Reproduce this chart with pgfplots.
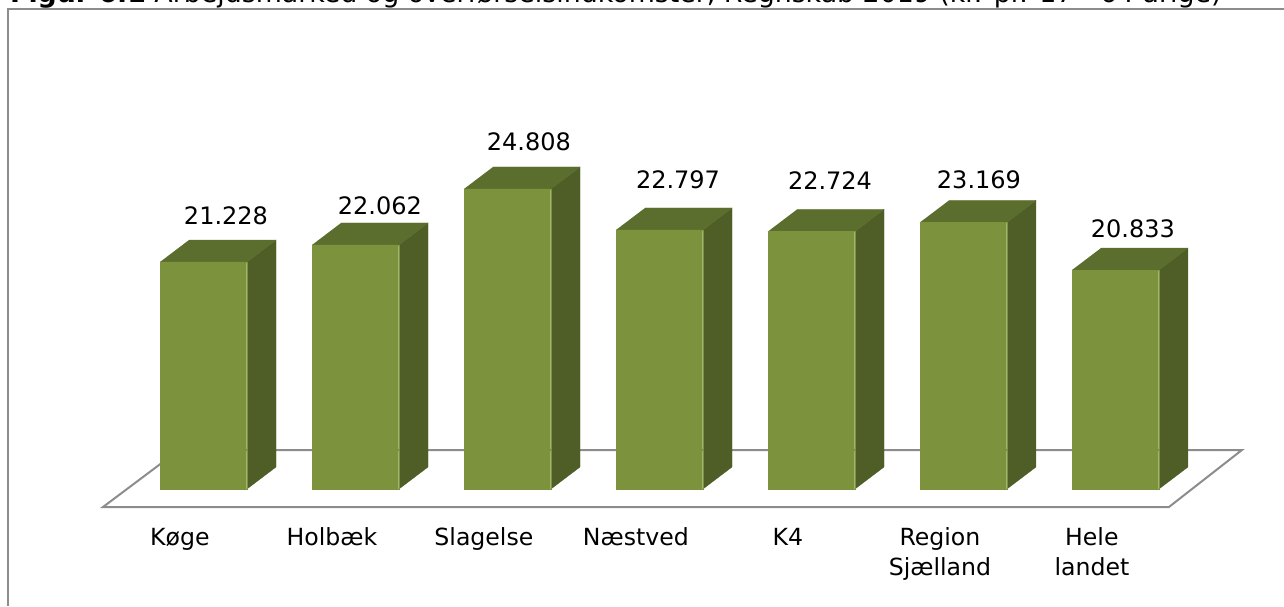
\documentclass[border=0pt]{standalone}
\usepackage{fontspec}
\setmainfont{DejaVu Sans}
\usepackage{pgfplots}
\usepackage{pgfplotstable}
\pgfplotsset{compat=1.18}

\definecolor{barfront}{RGB}{124,146,60}
\definecolor{bartop}{RGB}{92,110,45}
\definecolor{barside}{RGB}{78,94,38}
\definecolor{floorgray}{RGB}{140,140,140}

% 1000 kr. per 17-64 year old
\pgfplotstableread{
x v
0 21.228
1 22.062
2 24.808
3 22.797
4 22.724
5 23.169
6 20.833
}\kommuner

% where the value labels sit
\pgfplotstableread{
x y lab
0.148 23.090 21.228
1.161 23.580 22.062
2.141 26.669 24.808
3.122 24.855 22.797
4.122 24.806 22.724
5.102 24.855 23.169
6.115 22.453 20.833
}\labels

\begin{document}
\begin{tikzpicture}
\useasboundingbox (0,0) rectangle (1284pt,606pt);
\begin{axis}[
    at={(0,0)}, anchor=south west,
    scale only axis,
    width=1284pt, height=606pt,
    xmin=-1.3388, xmax=7.1086,
    ymin=4.365, ymax=34.071,
    y coord trafo/.code={\pgfmathparse{#1-10.1}},
    clip=false,
    axis line style={draw=none},
    major tick length=0pt,
    ytick=\empty,
    xtick={-0.155,0.845,1.845,2.845,3.845,4.845,5.845},
    xticklabels={K{\o}ge,Holb{\ae}k,Slagelse,N{\ae}stved,K4,Region\\Sj{\ae}lland,Hele\\landet},
    typeset ticklabels with strut,
    xticklabel style={align=center, anchor=north, yshift=84.5pt,
        font=\fontsize{23.6}{29.5}\selectfont},
]
% outer frame
\addplot[floorgray, line width=2pt] coordinates {(-1.283,4.365) (-1.283,33.629) (7.1086,33.629)};
% floor
\addplot[floorgray, line width=2pt, line join=miter] coordinates {(-0.661,9.218) (6.352,9.218) (6.832,12.012) (-0.161,12.012) (-0.661,9.218) (6.352,9.218)};

% side faces
\addplot[fill=barside, draw=barside, line width=0.3pt] coordinates {(0.2862,10.1) (0.4772,11.178) (0.4772,22.306) (0.2862,21.228)};
\addplot[fill=barside, draw=barside, line width=0.3pt] coordinates {(1.2862,10.1) (1.4772,11.178) (1.4772,23.140) (1.2862,22.062)};
\addplot[fill=barside, draw=barside, line width=0.3pt] coordinates {(2.2862,10.1) (2.4772,11.178) (2.4772,25.886) (2.2862,24.808)};
\addplot[fill=barside, draw=barside, line width=0.3pt] coordinates {(3.2862,10.1) (3.4772,11.178) (3.4772,23.875) (3.2862,22.797)};
\addplot[fill=barside, draw=barside, line width=0.3pt] coordinates {(4.2862,10.1) (4.4772,11.178) (4.4772,23.802) (4.2862,22.724)};
\addplot[fill=barside, draw=barside, line width=0.3pt] coordinates {(5.2862,10.1) (5.4772,11.178) (5.4772,24.247) (5.2862,23.169)};
\addplot[fill=barside, draw=barside, line width=0.3pt] coordinates {(6.2862,10.1) (6.4772,11.178) (6.4772,21.911) (6.2862,20.833)};
% top faces
\addplot[fill=bartop, draw=bartop, line width=0.3pt] coordinates {(-0.2862,21.228) (0.2862,21.228) (0.4772,22.306) (-0.0952,22.306)};
\addplot[fill=bartop, draw=bartop, line width=0.3pt] coordinates {(0.7138,22.062) (1.2862,22.062) (1.4772,23.140) (0.9048,23.140)};
\addplot[fill=bartop, draw=bartop, line width=0.3pt] coordinates {(1.7138,24.808) (2.2862,24.808) (2.4772,25.886) (1.9048,25.886)};
\addplot[fill=bartop, draw=bartop, line width=0.3pt] coordinates {(2.7138,22.797) (3.2862,22.797) (3.4772,23.875) (2.9048,23.875)};
\addplot[fill=bartop, draw=bartop, line width=0.3pt] coordinates {(3.7138,22.724) (4.2862,22.724) (4.4772,23.802) (3.9048,23.802)};
\addplot[fill=bartop, draw=bartop, line width=0.3pt] coordinates {(4.7138,23.169) (5.2862,23.169) (5.4772,24.247) (4.9048,24.247)};
\addplot[fill=bartop, draw=bartop, line width=0.3pt] coordinates {(5.7138,20.833) (6.2862,20.833) (6.4772,21.911) (5.9048,21.911)};

% front faces
\addplot[ybar, bar shift=0pt, bar width=86.5pt, fill=barfront, draw=barfront, line width=0.3pt] table[x=x, y=v] {\kommuner};

% value labels
\addplot[only marks, mark=none, point meta=explicit symbolic, nodes near coords,
    every node near coord/.append style={anchor=base, inner sep=0pt,
        font=\fontsize{24}{28}\selectfont}]
    table[x=x, y=y, meta=lab] {\labels};
\end{axis}
\node[anchor=base west, inner sep=0pt, font=\fontsize{26.8}{30}\selectfont] at (10pt,603.3pt)
    {\textbf{Figur 6.1} Arbejdsmarked og overførselsindkomster, Regnskab 2019 (kr. pr. 17 - 64 årige)};
\end{tikzpicture}
\end{document}
